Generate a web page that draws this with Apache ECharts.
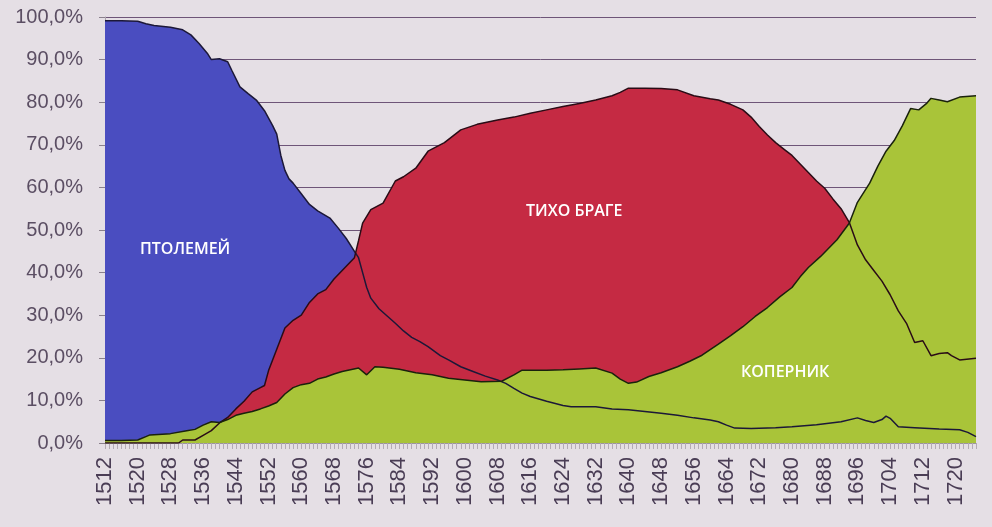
<!DOCTYPE html>
<html>
<head>
<meta charset="utf-8">
<script src="https://cdn.jsdelivr.net/npm/echarts@6/dist/echarts.min.js"></script>
<style>
html,body{margin:0;padding:0;background:#e5dfe5;}
#c{width:992px;height:527px;}
</style>
</head>
<body>
<div id="c"></div>
<script>
// Categories: every year 1512..1725 (ticks), labels every 8 years
var firstYear = 1512, lastYear = 1725;
var years = [];
for (var y = firstYear; y <= lastYear; y++) years.push(String(y));

var seriesNames = ['ПТОЛЕМЕЙ', 'ТИХО БРАГЕ', 'КОПЕРНИК'];

// Ptolemy (%)
var ptolemyYears = [1512,1516,1520,1522,1524,1528,1531,1533,1535,1537,1538,1540,1542,1543,1545,1547,1549,1551,1553,1554,1555,1556,1557,1558,1560,1562,1564,1567,1569,1571,1573,1574,1575,1576,1577,1579,1581,1583,1585,1587,1589,1591,1594,1596,1599,1602,1605,1608,1610,1612,1614,1616,1620,1624,1626,1632,1636,1640,1644,1648,1652,1656,1660,1662,1664,1666,1670,1676,1680,1686,1692,1696,1698,1700,1702,1703,1704,1706,1710,1716,1721,1723,1725];
var ptolemyValues = [99.1,99.1,99.0,98.4,98.0,97.6,97.0,95.8,93.8,91.5,90.0,90.2,89.5,87.5,83.6,82.0,80.5,78.0,74.5,72.5,67.5,64.0,62.0,61.0,58.5,56.0,54.5,52.8,50.5,48.0,45.0,43.5,40.0,36.5,34.0,31.5,29.8,28.1,26.3,24.8,23.8,22.6,20.5,19.5,17.9,16.8,15.7,14.8,14.0,12.8,11.7,10.9,9.8,8.8,8.5,8.5,8.0,7.8,7.4,7.0,6.5,5.9,5.4,5.0,4.2,3.5,3.4,3.6,3.8,4.3,5.0,5.9,5.3,4.8,5.5,6.3,5.8,3.8,3.6,3.3,3.1,2.5,1.5];

// Tycho Brahe (%)
var tychoYears = [1512,1520,1530,1531,1534,1536,1538,1540,1542,1544,1546,1548,1550,1551,1552,1554,1556,1558,1560,1562,1564,1566,1568,1570,1572,1573,1574,1575,1577,1580,1583,1585,1588,1591,1595,1599,1603,1608,1612,1616,1620,1624,1628,1632,1636,1638,1640,1644,1648,1652,1656,1660,1662,1665,1668,1670,1672,1674,1676,1678,1680,1682,1684,1686,1688,1690,1692,1694,1696,1698,1700,1702,1704,1706,1708,1710,1712,1714,1716,1718,1719,1721,1725];
var tychoValues = [0.0,0.0,0.0,0.7,0.7,1.8,2.9,4.7,6.0,8.0,9.8,12.0,13.0,13.5,17.0,22.0,27.0,28.8,30.0,33.0,35.0,36.0,38.5,40.5,42.5,43.5,47.5,51.6,54.8,56.3,61.5,62.5,64.5,68.5,70.5,73.5,74.8,75.8,76.5,77.4,78.2,79.0,79.7,80.5,81.5,82.3,83.3,83.3,83.2,82.9,81.5,80.8,80.5,79.5,78.2,76.5,74.3,72.3,70.5,69.0,67.5,65.5,63.5,61.5,59.8,57.3,55.0,51.8,46.5,43.0,40.5,38.0,34.8,31.0,28.1,23.6,24.0,20.5,21.0,21.2,20.5,19.5,19.9];

// Copernicus (%)
var copernicusYears = [1512,1516,1520,1522,1523,1528,1532,1534,1536,1538,1540,1542,1544,1546,1548,1550,1552,1554,1556,1558,1560,1562,1564,1566,1568,1570,1572,1574,1576,1578,1580,1584,1588,1592,1596,1600,1604,1609,1612,1614,1620,1624,1628,1632,1636,1638,1640,1642,1645,1648,1652,1655,1658,1662,1665,1668,1671,1674,1677,1680,1682,1684,1687,1691,1694,1696,1699,1701,1703,1705,1707,1709,1711,1713,1714,1716,1718,1721,1725];
var copernicusValues = [0.6,0.6,0.7,1.5,1.9,2.2,2.9,3.2,4.2,5.0,4.8,5.5,6.5,7.0,7.4,8.0,8.7,9.5,11.5,13.0,13.7,14.0,15.0,15.5,16.2,16.8,17.2,17.6,16.0,17.9,17.8,17.3,16.5,16.0,15.2,14.8,14.4,14.5,16.0,17.1,17.1,17.2,17.4,17.6,16.4,15.0,14.0,14.3,15.6,16.5,17.9,19.2,20.6,23.2,25.2,27.3,29.7,31.8,34.3,36.5,39.0,41.2,43.8,47.7,51.6,56.5,61.0,65.0,68.5,71.0,74.5,78.5,78.2,79.8,80.9,80.5,80.1,81.2,81.5];

var areaColors = ['#4a4dc0', '#c52a43', '#a9c439'];
var lineColors = ['#1c1838', '#2a0c16', '#1a220c'];

function pairs(ys, vs) {
  return ys.map(function (y, i) { return [String(y), vs[i]]; });
}
var datasets = [
  pairs(ptolemyYears, ptolemyValues),
  pairs(tychoYears, tychoValues),
  pairs(copernicusYears, copernicusValues)
];

var series = [];
datasets.forEach(function (d, i) {
  series.push({
    name: seriesNames[i] + ' area',
    type: 'line',
    data: d,
    showSymbol: false,
    symbol: 'none',
    lineStyle: { width: 0 },
    areaStyle: { color: areaColors[i], opacity: 1 },
    silent: true,
    z: 2
  });
});
datasets.forEach(function (d, i) {
  series.push({
    name: seriesNames[i],
    type: 'line',
    data: d,
    showSymbol: false,
    symbol: 'none',
    lineStyle: { width: 1.5, color: lineColors[i] },
    silent: true,
    z: 3
  });
});

var chart = echarts.init(document.getElementById('c'));
chart.setOption({
  backgroundColor: '#e5dfe5',
  animation: false,
  grid: { left: 105, right: 16, top: 17, bottom: 84 },
  xAxis: {
    type: 'category',
    data: years,
    boundaryGap: false,
    axisLine: { lineStyle: { color: '#9c949e', width: 1 } },
    axisTick: { show: true, interval: 0, length: 6, lineStyle: { color: '#b3abb4' } },
    axisLabel: {
      interval: 7,
      rotate: 90,
      margin: 14,
      fontFamily: 'Liberation Sans',
      fontSize: 22,
      color: '#4a3d55'
    },
    splitLine: { show: false }
  },
  yAxis: {
    type: 'value',
    min: 0,
    max: 100,
    interval: 10,
    axisLine: { show: true, lineStyle: { color: '#aaa2ac' } },
    axisTick: { show: true, length: 6, lineStyle: { color: '#8a808c' } },
    axisLabel: {
      margin: 22,
      fontFamily: 'Liberation Sans',
      fontSize: 20,
      color: '#5b4e63',
      formatter: function (v) { return v.toFixed(1).replace('.', ',') + '%'; }
    },
    splitLine: { show: true, lineStyle: { color: '#6e5578', width: 1 } }
  },
  graphic: [
    { type: 'text', left: 140, top: 241, z: 10, style: { text: seriesNames[0], fill: '#ffffff', font: '600 16px "Open Sans"' } },
    { type: 'text', left: 526, top: 203, z: 10, style: { text: seriesNames[1], fill: '#ffffff', font: '600 16px "Open Sans"' } },
    { type: 'text', left: 741, top: 364, z: 10, style: { text: seriesNames[2], fill: '#ffffff', font: '600 16px "Open Sans"' } }
  ],
  series: series
});
</script>
</body>
</html>
